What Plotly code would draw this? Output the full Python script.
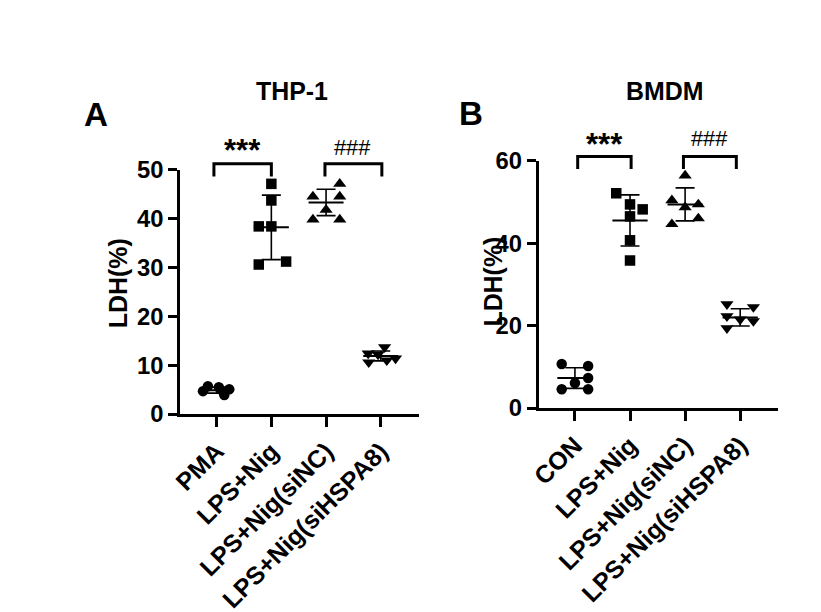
import plotly.graph_objects as go

"""
LDH release, THP-1 (A) and BMDM (B). Scatter dot plots with mean +/- SD, GraphPad style.
"""

groups_A = ['PMA', 'LPS+Nig', 'LPS+Nig(siNC)', 'LPS+Nig(siHSPA8)']
groups_B = ['CON', 'LPS+Nig', 'LPS+Nig(siNC)', 'LPS+Nig(siHSPA8)']

# THP-1 values (LDH %)
thp_pma = [4.7, 5.7, 5.5, 4.7, 5.1, 3.9]
thp_nig = [47.1, 43.7, 38.4, 38.4, 30.6, 31.2]
thp_sinc = [47.1, 44.5, 44.5, 41.8, 39.8, 39.8]
thp_sihspa8 = [12.4, 13.7, 12.2, 11.4, 10.6, 11.0]
thp_mean = [4.9, 38.2, 43.3, 11.9]
thp_sd = [0.6, 6.6, 2.7, 1.0]

# BMDM values (LDH %)
bmdm_con = [10.7, 10.2, 7.3, 6.1, 4.6, 4.6]
bmdm_nig = [52.1, 49.4, 48.2, 46.5, 40.7, 35.8]
bmdm_sinc = [56.4, 50.4, 48.7, 49.4, 44.6, 46.0]
bmdm_sihspa8 = [25.2, 24.5, 22.3, 21.5, 21.1, 19.4]
bmdm_mean = [7.3, 45.5, 49.4, 22.0]
bmdm_sd = [2.5, 6.2, 4.0, 2.1]

# horizontal scatter of the dots inside each column (category units)
jit_A = [
    [-0.25, -0.16, 0.04, 0.11, 0.23, 0.14],
    [0.0, 0.0, -0.23, 0.0, -0.23, 0.27],
    [0.25, -0.24, 0.25, 0.0, -0.24, 0.25],
    [-0.23, 0.07, -0.05, 0.27, -0.22, 0.11],
]
jit_B = [
    [-0.24, 0.24, 0.24, 0.0, -0.24, 0.24],
    [-0.25, 0.0, 0.23, 0.0, 0.0, 0.0],
    [0.0, -0.24, 0.0, 0.24, -0.24, 0.24],
    [-0.24, 0.24, -0.24, 0.0, 0.24, -0.24],
]

symbols = ['circle', 'square', 'triangle-up', 'triangle-down']

FONT = 'Liberation Sans, Arial, sans-serif'
W, H = 821, 612

# the page shows up shifted (and a bit squashed vertically) in the snapshot, compensate
OX, OY, SX, SY = 6, 20, 1.0, 0.958
SF = 0.965


def px(x):
    return (x - OX) / SX / W


def py(y):
    return 1 - (y - OY) / SY / H


def fs(s):
    return round(s / SF, 1)


dom_A_x = [px(170), px(412)]
dom_A_y = [py(413), py(168)]
dom_B_x = [px(533), px(775)]
dom_B_y = [py(407), py(159)]
rng_A_x = [-0.67, 3.7]
rng_B_x = [-0.66, 3.68]
rng_A_y = [0, 50]
rng_B_y = [0, 60]


def to_paper(v, dom, rng):
    return dom[0] + (v - rng[0]) / (rng[1] - rng[0]) * (dom[1] - dom[0])


fig = go.Figure()


def add_panel(data, jit, means, sds, xa, ya):
    for i, vals in enumerate(data):
        fig.add_trace(go.Scatter(
            x=[i + j for j in jit[i]], y=vals, mode='markers',
            marker=dict(symbol=symbols[i], size=11.5 if 'triangle' in symbols[i] else 10.5,
                        color='black', line=dict(width=0)),
            cliponaxis=False, showlegend=False, xaxis=xa, yaxis=ya))
    for i in range(len(means)):
        # mean line
        fig.add_trace(go.Scatter(
            x=[i - 0.32, i + 0.32], y=[means[i], means[i]], mode='lines',
            line=dict(color='black', width=2), showlegend=False, xaxis=xa, yaxis=ya))
        # SD bar
        fig.add_trace(go.Scatter(
            x=[i], y=[means[i]], mode='markers', marker=dict(size=1, opacity=0),
            error_y=dict(type='data', array=[sds[i]], visible=True, color='black',
                         thickness=1.6, width=9.5),
            showlegend=False, xaxis=xa, yaxis=ya))


add_panel([thp_pma, thp_nig, thp_sinc, thp_sihspa8], jit_A, thp_mean, thp_sd, 'x', 'y')
add_panel([bmdm_con, bmdm_nig, bmdm_sinc, bmdm_sihspa8], jit_B, bmdm_mean, bmdm_sd, 'x2', 'y2')

xtickfont = dict(family=FONT, size=fs(24), color='black', weight='bold')
ytickfont = dict(family=FONT, size=fs(23), color='black', weight='bold')
common_x = dict(tickmode='array', tickvals=[0, 1, 2, 3], tickangle=-45, showline=True,
                linecolor='black', linewidth=2.6, ticks='outside', ticklen=10, tickwidth=2.6,
                tickcolor='black', showgrid=False, zeroline=False, tickfont=xtickfont)
common_y = dict(showline=True, linecolor='black', linewidth=2.6, ticks='outside', ticklen=9,
                tickwidth=2.6, tickcolor='black', showgrid=False, zeroline=False,
                tickfont=ytickfont)

fig.update_layout(
    width=W, height=H,
    margin=dict(l=0, r=0, t=0, b=0),
    paper_bgcolor='white', plot_bgcolor='white',
    font=dict(family=FONT, color='black'),
    xaxis=dict(domain=dom_A_x, range=rng_A_x, ticktext=groups_A, anchor='y', **common_x),
    yaxis=dict(domain=dom_A_y, range=rng_A_y, tickvals=[0, 10, 20, 30, 40, 50], anchor='x', **common_y),
    xaxis2=dict(domain=dom_B_x, range=rng_B_x, ticktext=groups_B, anchor='y2', **common_x),
    yaxis2=dict(domain=dom_B_y, range=rng_B_y, tickvals=[0, 20, 40, 60], anchor='x2', **common_y),
)

# significance brackets: [x_left, x_right, y_top, y_drop]
brackets_A = [[-0.05, 1.0, 51.2, 48.6], [1.98, 3.02, 51.2, 48.6]]
brackets_B = [[0.05, 1.02, 61.0, 58.0], [1.97, 2.93, 61.0, 58.0]]

for xr, dom, rng, brs in [('x', dom_A_y, rng_A_y, brackets_A), ('x2', dom_B_y, rng_B_y, brackets_B)]:
    for x0, x1, top, drop in brs:
        yt = to_paper(top, dom, rng)
        yd = to_paper(drop, dom, rng)
        fig.add_shape(type='path', xref=xr, yref='paper',
                      path=f'M {x0} {yd} L {x0} {yt} L {x1} {yt} L {x1} {yd}',
                      line=dict(color='black', width=3))

# significance marks: (xref, y-domain, y-range, x, y, text)
# asterisks sit high in their text box, so their anchor is set a little lower
stars = [('x', dom_A_y, rng_A_y, 0.47, 54.0, '***'), ('x2', dom_B_y, rng_B_y, 0.54, 63.9, '***')]
hashes = [('x', dom_A_y, rng_A_y, 2.49, 54.6, '###'), ('x2', dom_B_y, rng_B_y, 2.44, 65.3, '###')]
for xr, dom, rng, xv, yv, txt in stars:
    fig.add_annotation(x=xv, y=to_paper(yv, dom, rng), xref=xr, yref='paper', text=txt,
                       showarrow=False, yanchor='middle', xanchor='center',
                       font=dict(family=FONT, size=fs(30), color='black', weight='bold'))
for xr, dom, rng, xv, yv, txt in hashes:
    fig.add_annotation(x=xv, y=to_paper(yv, dom, rng), xref=xr, yref='paper', text=txt,
                       showarrow=False, yanchor='middle', xanchor='center',
                       font=dict(family=FONT, size=fs(21), color='black'))

# titles, panel letters, y titles
labels = [
    (283, 89, 'THP-1', 24, 0),
    (660, 89, 'BMDM', 24, 0),
    (85, 113, 'A', 32, 0),
    (465, 112, 'B', 32, 0),
    (108, 282, 'LDH(%)', 24, -90),
    (487, 280, 'LDH(%)', 24, -90),
]
for x, y, txt, size, ang in labels:
    fig.add_annotation(x=px(x), y=py(y), xref='paper', yref='paper', text=txt,
                       showarrow=False, textangle=ang, xanchor='center', yanchor='middle',
                       font=dict(family=FONT, size=fs(size), color='black', weight='bold'))

fig.write_html('out.html')
